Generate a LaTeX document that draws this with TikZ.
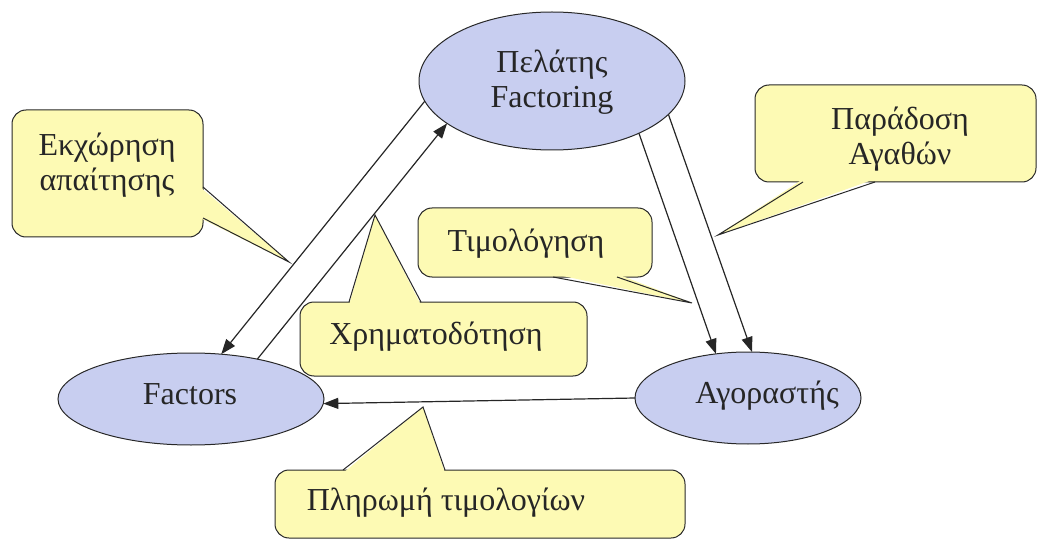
\documentclass[tikz,border=0pt]{standalone}
\usepackage{fontspec}
\setmainfont{Liberation Serif}
\usetikzlibrary{arrows.meta,shapes.geometric}
\definecolor{ellfill}{RGB}{200,206,240}
\definecolor{callfill}{RGB}{253,250,180}
\definecolor{edgecol}{RGB}{40,40,40}
\tikzset{
 ell/.style={ellipse, draw=edgecol, line width=1pt, fill=ellfill, inner sep=0pt, outer sep=0pt},
 lbl/.style={font=\fontsize{32}{35}\selectfont, align=center, text=black!85, inner sep=0pt},
 flow/.style={draw=black!85, line width=1.2pt, -{Triangle[length=15pt,width=11pt]}},
 box/.style={fill=callfill, draw=edgecol, line width=1pt, rounded corners=14pt},
 ptr/.style={fill=callfill},
 ptredge/.style={draw=edgecol, line width=1pt, line join=miter},
}
\begin{document}
\begin{tikzpicture}[x=1pt,y=-1pt]
\useasboundingbox (0,0) rectangle (1039,540);
% --- callouts ---
% Εκχώρηση απαίτησης
\coordinate (tipE) at (289,262);
\draw[box] (12,110) rectangle (203,237);
\fill[ptr] (200,187) -- (tipE) -- (200,218) -- cycle;
\draw[ptredge] (203,187) -- (tipE) -- (203,218);
\node[lbl] (tE) at (107,165) {Εκχώρηση\\απαίτησης};
% Χρηματοδότηση
\coordinate (tipX) at (375,215);
\draw[box] (300,302) rectangle (587,376);
\fill[ptr] (349,305) -- (tipX) -- (421,305) -- cycle;
\draw[ptredge] (349,302) -- (tipX) -- (421,302);
\node[lbl] (tX) at (436,337) {Χρηματοδότηση};
% Τιμολόγηση
\coordinate (tipT) at (692,303);
\draw[box] (418,208) rectangle (652,277);
\fill[ptr] (553,274) -- (tipT) -- (617,274) -- cycle;
\draw[ptredge] (553,277) -- (tipT) -- (617,277);
\node[lbl] (tT) at (526,244) {Τιμολόγηση};
% Παράδοση Αγαθών
\coordinate (tipP) at (718,235);
\draw[box] (755,85) rectangle (1036,182);
\fill[ptr] (803,179) -- (tipP) -- (875,179) -- cycle;
\draw[ptredge] (803,182) -- (tipP) -- (875,182);
\node[lbl] (tP) at (900,139) {Παράδοση\\Αγαθών};
% Πληρωμή τιμολογίων
\coordinate (tipL) at (423,407);
\draw[box] (275,470) rectangle (685,538);
\fill[ptr] (343,473) -- (tipL) -- (445,473) -- cycle;
\draw[ptredge] (343,470) -- (tipL) -- (445,470);
\node[lbl] (tL) at (446,503) {Πληρωμή τιμολογίων};
% --- ellipses ---
\node[ell, minimum width=266pt, minimum height=138pt] (c) at (552,81) {};
\node[lbl] (tc) at (552,82) {Πελάτης\\Factoring};
\node[ell, minimum width=266pt, minimum height=92pt] (f) at (191,399) {};
\node[lbl] (tf) at (190,394) {Factors};
\node[ell, minimum width=226pt, minimum height=92pt] (a) at (748,398) {};
\node[lbl] (ta) at (767,396) {Αγοραστής};
% --- flows ---
\draw[flow] (c.189) -- (f.56);
\draw[flow] (f.31) -- (c.202);
\draw[flow] (c.-31) -- (a.126);
\draw[flow] (c.-16.6) -- (a.85);
\draw[flow] (a.180) -- (f.-2);
\end{tikzpicture}
\end{document}
